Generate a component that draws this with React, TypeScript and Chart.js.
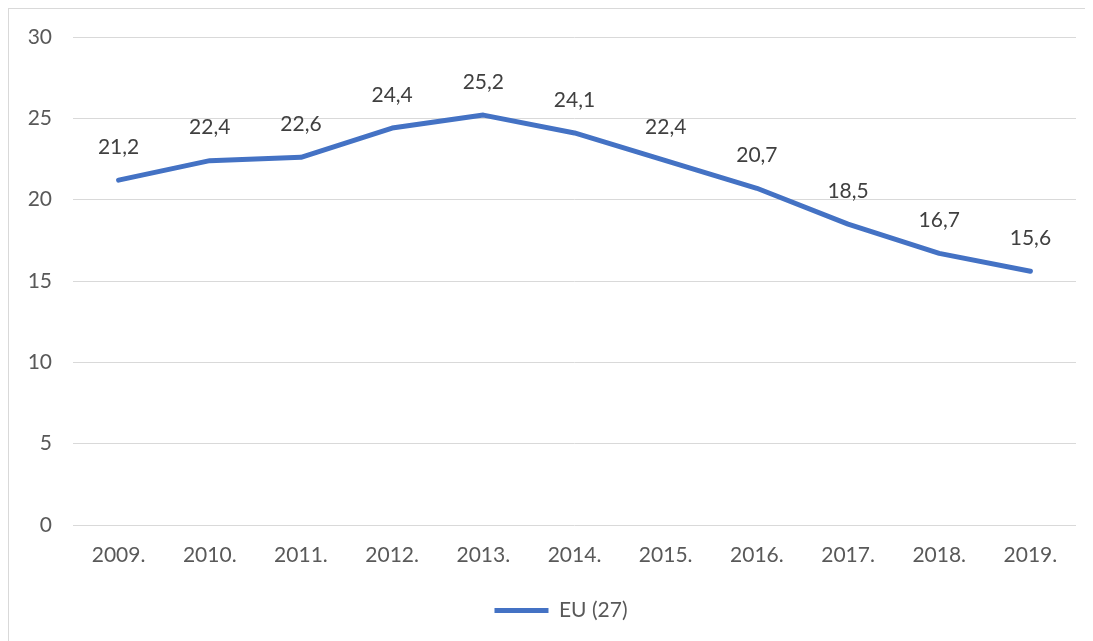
import React, { useEffect, useRef } from "react";
import { Chart, registerables } from "chart.js";

Chart.register(...registerables);

const categories = ["2009.", "2010.", "2011.", "2012.", "2013.", "2014.", "2015.", "2016.", "2017.", "2018.", "2019."];
const euValues = [21.2, 22.4, 22.6, 24.4, 25.2, 24.1, 22.4, 20.7, 18.5, 16.7, 15.6];
const seriesName = "EU (27)";
const yTicks = [0, 5, 10, 15, 20, 25, 30];

const FONT = "Lato, 'Open Sans', sans-serif";

const dataLabelPlugin = {
  id: "dataLabels",
  afterLayout(chart: any) {
    if (chart.legend) {
      chart.legend.left += 37;
    }
  },
  afterDatasetsDraw(chart: any) {
    const ctx = chart.ctx;
    const meta = chart.getDatasetMeta(0);
    ctx.save();
    ctx.font = `21px ${FONT}`;
    ctx.fillStyle = "#404040";
    ctx.textAlign = "center";
    ctx.textBaseline = "middle";
    meta.data.forEach((pt: any, i: number) => {
      const v = chart.data.datasets[0].data[i];
      ctx.fillText(String(v).replace(".", ","), pt.x, pt.y - 33);
    });
    ctx.restore();
  },
};

export default function App() {
  const ref = useRef<HTMLCanvasElement>(null);
  useEffect(() => {
    if (!ref.current) return;
    const chart = new Chart(ref.current, {
      type: "line",
      data: {
        labels: categories,
        datasets: [
          {
            label: seriesName,
            data: euValues,
            borderColor: "#4472C4",
            backgroundColor: "#4472C4",
            borderWidth: 5,
            borderCapStyle: "round",
            borderJoinStyle: "round",
            pointRadius: 0,
            tension: 0,
          },
        ],
      },
      options: {
        animation: false,
        responsive: false,
        maintainAspectRatio: false,
        layout: { padding: { top: 28, right: 17, bottom: 10, left: 0 } },
        plugins: {
          tooltip: { enabled: false },
          legend: {
            position: "bottom",
            labels: {
              usePointStyle: true,
              pointStyle: "line",
              pointStyleWidth: 54,
              boxHeight: 5,
              color: "#595959",
              font: { family: FONT, size: 21 },
              padding: 10,
            },
          },
        },
        scales: {
          x: {
            offset: true,
            grid: { display: false, drawTicks: false },
            border: { display: false },
            ticks: { color: "#595959", font: { family: FONT, size: 21 }, padding: 18, maxRotation: 0 },
            afterFit: (s: any) => { s.height = 65; },
          },
          y: {
            min: 0,
            max: 30,
            afterBuildTicks: (s: any) => { s.ticks = yTicks.map((v) => ({ value: v })); },
            grid: { color: "#d9d9d9", lineWidth: 1, drawTicks: false },
            border: { display: false },
            ticks: { color: "#595959", font: { family: FONT, size: 21 }, padding: 21 },
            afterFit: (s: any) => { s.width = 64; s.paddingTop = 0; s.paddingBottom = 0; },
          },
        },
      },
      plugins: [dataLabelPlugin],
    } as any);
    return () => chart.destroy();
  }, []);
  return (
    <div style={{ width: 1100, height: 660, border: "1px solid #d9d9d9", boxSizing: "border-box", overflow: "hidden" }}>
      <canvas ref={ref} width={1084} height={632} style={{ display: "block" }} />
    </div>
  );
}
